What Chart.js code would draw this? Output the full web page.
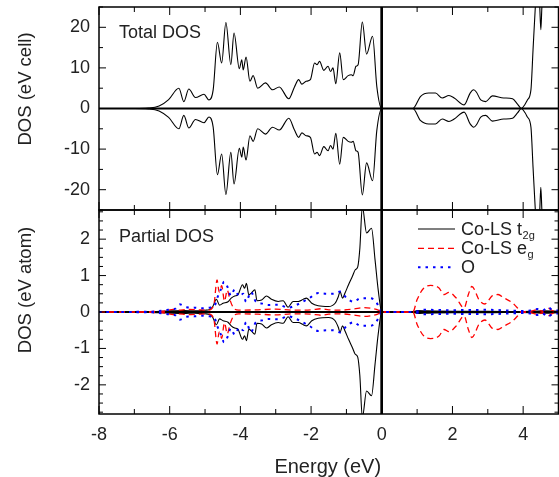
<!DOCTYPE html>
<html>
<head>
<meta charset="utf-8">
<script src="https://cdn.jsdelivr.net/npm/chart.js@4/dist/chart.umd.min.js"></script>
<style>
  body { margin: 0; background: #fff; }
  #wrap { position: relative; width: 559px; height: 477px; }
  canvas { position: absolute; left: 0; }
</style>
</head>
<body>
<div id="wrap">
  <canvas id="totalChart" width="559" height="212" style="top:0"></canvas>
  <canvas id="partialChart" width="559" height="269" style="top:208px"></canvas>
</div>
<script>
// 轴刻度
const xTicks = [-8, -6, -4, -2, 0, 2, 4];
const totalTicks = [-20, -10, 0, 10, 20];
const partialTicks = [-2, -1, 0, 1, 2];

// Total DOS (spin up / spin down)
const totalE = [-8, -7, -6.6, -6.3, -6.03, -5.74, -5.6, -5.46, -5.27, -5.03,
  -4.89, -4.77, -4.65, -4.53, -4.41, -4.27, -4.18, -4.03, -3.96, -3.92,
  -3.84, -3.73, -3.64, -3.51, -3.29, -3.09, -2.9, -2.63, -2.47, -2.35,
  -2.26, -2.14, -2.02, -1.9, -1.83, -1.76, -1.64, -1.52, -1.45, -1.38,
  -1.3, -1.19, -1.09, -0.95, -0.86, -0.81, -0.73, -0.67, -0.55, -0.43,
  -0.26, -0.14, 0, 0.88, 1.1, 1.33, 1.52, 1.71, 1.9, 2.05,
  2.33, 2.5, 2.6, 2.68, 2.8, 2.94, 3.13, 3.45, 3.7, 3.84,
  3.95, 4.05, 4.12, 4.22, 4.28, 4.34, 4.38, 4.44, 4.47, 4.5,
  4.53, 4.57, 5];
const totalUp = [0, 0, 0.1, 0.6, 2.2, 5.0, 1.7, 4.8, 2.7, 3.5,
  2.1, 4.6, 16.3, 11.2, 21.2, 10.8, 18.6, 9.8, 12.0, 9.5,
  12.7, 6.7, 8.1, 5.0, 6.3, 4.6, 5.3, 2.4, 5.3, 7.1,
  6.0, 6.7, 7.1, 11.2, 10.8, 11.6, 9.4, 10.4, 9.1, 10.0,
  6.1, 13.7, 7.1, 8.1, 8.3, 8.1, 10.4, 10.8, 21.3, 13.4,
  17.8, 5.4, 0, 0, 3.0, 3.8, 3.8, 2.6, 3.2, 2.6,
  0.9, 3.8, 4.6, 4.0, 2.1, 1.7, 3.1, 2.6, 2.4, 1.1,
  0, 1.0, 2.1, 4.6, 14.5, 24.3, 30, 30, 25, 19.4,
  25, 30, 32];
const totalDn = [0, 0, -0.1, -0.6, -2.2, -5.0, -1.7, -4.8, -2.7, -3.5,
  -2.1, -4.6, -16.3, -11.2, -21.2, -10.8, -18.6, -9.8, -12.0, -9.5,
  -12.7, -6.7, -8.1, -5.0, -6.3, -4.6, -5.3, -2.4, -5.3, -7.1,
  -6.0, -6.7, -7.1, -11.2, -10.8, -11.6, -9.4, -10.4, -9.1, -10.0,
  -6.1, -13.7, -7.1, -8.1, -8.3, -8.1, -10.4, -10.8, -21.3, -13.4,
  -17.8, -5.4, 0, 0, -3.0, -3.8, -3.8, -2.6, -3.2, -2.6,
  -0.9, -3.8, -4.6, -4.0, -2.1, -1.7, -3.1, -2.6, -2.4, -1.1,
  0, -1.0, -2.1, -4.6, -14.5, -24.3, -30, -30, -25, -19.4,
  -25, -30, -32];

// Partial DOS: Co-LS t2g
const t2gE = [-8, -6.5, -6.0, -5.6, -5.3, -5.0, -4.87, -4.78, -4.68, -4.59,
  -4.49, -4.35, -4.26, -4.16, -4.07, -3.94, -3.88, -3.83, -3.76, -3.69,
  -3.59, -3.53, -3.4, -3.26, -3.12, -2.93, -2.79, -2.65, -2.51, -2.36,
  -2.22, -2.13, -1.98, -1.8, -1.51, -1.32, -1.23, -1.18, -1.11, -1.04,
  -0.94, -0.83, -0.75, -0.68, -0.62, -0.55, -0.43, -0.29, -0.19, -0.1,
  0, 0.88, 1.0, 1.3, 2.0, 3.0, 3.9, 4.3, 4.6, 5];
const t2gUp = [0, 0.01, 0.03, 0.04, 0.03, 0.05, 0.07, 0.15, 0.35, 0.19,
  0.24, 0.28, 0.38, 0.44, 0.47, 0.75, 0.65, 0.79, 0.47, 0.52,
  0.61, 0.31, 0.33, 0.44, 0.35, 0.29, 0.31, 0.13, 0.29, 0.29,
  0.35, 0.38, 0.24, 0.17, 0.15, 0.24, 0.42, 0.56, 0.38, 0.52,
  0.75, 0.98, 1.16, 1.24, 1.75, 2.9, 2.17, 2.3, 1.43, 0.6,
  0, 0, 0.04, 0.03, 0.02, 0.02, 0.01, 0.02, 0.03, 0.02];
const t2gDn = [0, -0.01, -0.03, -0.04, -0.03, -0.05, -0.07, -0.15, -0.35, -0.19,
  -0.24, -0.28, -0.38, -0.44, -0.47, -0.75, -0.65, -0.79, -0.47, -0.52,
  -0.61, -0.31, -0.33, -0.44, -0.35, -0.29, -0.31, -0.13, -0.29, -0.29,
  -0.35, -0.38, -0.24, -0.17, -0.15, -0.24, -0.42, -0.56, -0.38, -0.52,
  -0.75, -0.98, -1.16, -1.24, -1.75, -2.9, -2.17, -2.3, -1.43, -0.6,
  0, 0, -0.04, -0.03, -0.02, -0.02, -0.01, -0.02, -0.03, -0.02];

// Partial DOS: Co-LS eg
const egE = [-8, -6.2, -5.9, -5.75, -5.5, -5.2, -4.9, -4.75, -4.66, -4.6,
  -4.53, -4.45, -4.37, -4.3, -4.2, -4.05, -3.5, -3.0, -2.5, -2.0,
  -1.7, -1.5, -1.2, -0.8, -0.5, -0.3, -0.1, 0, 0.88, 1.0,
  1.19, 1.38, 1.62, 1.76, 1.9, 2.1, 2.33, 2.45, 2.55, 2.76,
  2.92, 3.13, 3.29, 3.45, 3.7, 3.84, 3.93, 4.2, 4.41, 4.55,
  4.69, 4.85, 5];
const egUp = [0, 0.02, 0.07, 0.05, 0.07, 0.06, 0.05, 0.2, 0.88, 0.55,
  0.72, 0.3, 0.6, 0.35, 0.12, 0.05, 0.06, 0.08, 0.05, 0.06,
  0.09, 0.06, 0.05, 0.08, 0.12, 0.1, 0.05, 0, 0, 0.34,
  0.66, 0.73, 0.66, 0.48, 0.54, 0.39, 0.11, 0.48, 0.7, 0.32,
  0.22, 0.45, 0.48, 0.39, 0.25, 0.11, 0, 0.02, 0.06, 0.02,
  0.11, 0.03, 0.02];
const egDn = [0, -0.02, -0.07, -0.05, -0.07, -0.06, -0.05, -0.2, -0.88, -0.55,
  -0.72, -0.3, -0.6, -0.35, -0.12, -0.05, -0.06, -0.08, -0.05, -0.06,
  -0.09, -0.06, -0.05, -0.08, -0.12, -0.1, -0.05, 0, 0, -0.34,
  -0.66, -0.73, -0.66, -0.48, -0.54, -0.39, -0.11, -0.48, -0.7, -0.32,
  -0.22, -0.45, -0.48, -0.39, -0.25, -0.11, 0, -0.02, -0.06, -0.02,
  -0.11, -0.03, -0.02];

// Partial DOS: O
const oE = [-8, -6.5, -6.03, -5.84, -5.72, -5.53, -5.3, -5.07, -4.87, -4.75,
  -4.64, -4.56, -4.46, -4.37, -4.27, -4.16, -4.03, -3.92, -3.84, -3.7,
  -3.56, -3.37, -3.22, -2.93, -2.65, -2.4, -2.2, -2.05, -1.8, -1.56,
  -1.37, -1.18, -0.99, -0.8, -0.6, -0.4, -0.2, -0.05, 0, 0.88,
  1.2, 2.0, 3.0, 3.9, 4.2, 4.41, 4.55, 4.69, 4.85, 5];
const oUp = [0, 0.01, 0.06, 0.09, 0.21, 0.13, 0.12, 0.1, 0.12, 0.14,
  0.42, 0.6, 0.83, 0.7, 0.45, 0.62, 0.42, 0.5, 0.28, 0.55,
  0.28, 0.23, 0.19, 0.2, 0.12, 0.2, 0.3, 0.38, 0.52, 0.5,
  0.5, 0.56, 0.38, 0.28, 0.38, 0.38, 0.33, 0.08, 0, 0,
  0.06, 0.05, 0.06, 0.03, 0.04, 0.08, 0.04, 0.13, 0.05, 0.04];
const oDn = [0, -0.01, -0.06, -0.09, -0.21, -0.13, -0.12, -0.1, -0.12, -0.14,
  -0.42, -0.6, -0.83, -0.7, -0.45, -0.62, -0.42, -0.5, -0.28, -0.55,
  -0.28, -0.23, -0.19, -0.2, -0.12, -0.2, -0.3, -0.38, -0.52, -0.5,
  -0.5, -0.56, -0.38, -0.28, -0.38, -0.38, -0.33, -0.08, 0, 0,
  -0.06, -0.05, -0.06, -0.03, -0.04, -0.08, -0.04, -0.13, -0.05, -0.04];

const legendMain = ['Co-LS t', 'Co-LS e', 'O'];
const legendSub = ['2g', 'g', ''];

const FONT = '"Liberation Sans", Arial, Helvetica, sans-serif';
const TXT = '#222';

function pts(xs, ys) {
  return xs.map((x, i) => ({ x: x, y: ys[i] }));
}

// 线型
const styleT2g = { borderColor: '#000', borderWidth: 1.1, borderDash: [] };
const styleEg = { borderColor: '#ff0000', borderWidth: 1.3, borderDash: [6, 4] };
const styleO = { borderColor: '#0000ff', borderWidth: 2, borderDash: [2.5, 5] };

// 去掉刻度标签的额外边距
function noPad(s) {
  s.paddingTop = 0;
  s.paddingBottom = 0;
  s.paddingLeft = 0;
  s.paddingRight = 0;
}

function seg(ctx, x1, y1, x2, y2) {
  ctx.beginPath();
  ctx.moveTo(x1, y1);
  ctx.lineTo(x2, y2);
  ctx.stroke();
}

// 零线画在曲线下面，边框、内向刻度和文字画在上面
const framePlugin = {
  id: 'frame',
  beforeDatasetsDraw(chart) {
    const { ctx, chartArea: a } = chart;
    const y0 = chart.scales.y.getPixelForValue(0);
    const x0 = chart.scales.x.getPixelForValue(0);
    ctx.save();
    ctx.strokeStyle = '#000';
    ctx.lineWidth = 2;
    seg(ctx, a.left, y0, a.right, y0);
    ctx.lineWidth = 2.4;
    seg(ctx, x0, a.top, x0, a.bottom);
    ctx.restore();
  },
  afterDatasetsDraw(chart, args, opts) {
    const { ctx, chartArea: a } = chart;
    const xs = chart.scales.x, ys = chart.scales.y;
    ctx.save();
    ctx.strokeStyle = '#000';
    ctx.setLineDash([]);

    // 竖直零线再压一次，保证贯通
    const x0 = xs.getPixelForValue(0);
    ctx.lineWidth = 2.4;
    seg(ctx, x0, a.top, x0, a.bottom);

    // 边框
    ctx.lineWidth = 1.5;
    ctx.strokeRect(a.left, a.top, a.right - a.left, a.bottom - a.top);

    // x 刻度
    ctx.lineWidth = 1;
    for (let v = -8; v <= 5; v++) {
      const px = xs.getPixelForValue(v);
      const len = v % 2 === 0 ? 8 : 5;
      seg(ctx, px, a.top, px, a.top + len);
      seg(ctx, px, a.bottom, px, a.bottom - len);
    }
    // y 刻度
    const n0 = Math.ceil(ys.min / opts.yStep - 1e-6);
    const n1 = Math.floor(ys.max / opts.yStep + 1e-6);
    for (let n = n0; n <= n1; n++) {
      const v = n * opts.yStep;
      const py = ys.getPixelForValue(v);
      const major = Math.abs(v / opts.yMajor - Math.round(v / opts.yMajor)) < 1e-6;
      const len = major ? 7 : 4;
      seg(ctx, a.left, py, a.left + len, py);
      seg(ctx, a.right, py, a.right - len, py);
    }

    // 面板标签
    ctx.fillStyle = TXT;
    ctx.textBaseline = 'alphabetic';
    ctx.textAlign = 'left';
    ctx.font = '18px ' + FONT;
    ctx.fillText(opts.label, opts.labelX, opts.labelY);

    // y 轴标题
    ctx.save();
    ctx.translate(opts.titleX, opts.titleY);
    ctx.rotate(-Math.PI / 2);
    ctx.textAlign = 'center';
    ctx.textBaseline = 'middle';
    ctx.font = '18.5px ' + FONT;
    ctx.fillText(opts.yTitle, 0, 0);
    ctx.restore();

    // x 轴标题
    if (opts.xTitle) {
      ctx.textAlign = 'center';
      ctx.textBaseline = 'middle';
      ctx.font = '20px ' + FONT;
      ctx.fillText(opts.xTitle, (a.left + a.right) / 2 - 1, opts.xTitleY);
    }

    // 图例
    if (opts.legend) {
      const styles = [styleT2g, styleEg, styleO];
      const rows = [21, 40.3, 59.3];
      styles.forEach((s, i) => {
        ctx.strokeStyle = s.borderColor;
        ctx.lineWidth = s.borderWidth;
        ctx.setLineDash(s.borderDash);
        seg(ctx, 418, rows[i], 455, rows[i]);
        ctx.setLineDash([]);
        ctx.fillStyle = TXT;
        ctx.textAlign = 'left';
        ctx.textBaseline = 'alphabetic';
        ctx.font = '18px ' + FONT;
        const base = rows[i] + 6;
        ctx.fillText(legendMain[i], 461, base);
        if (legendSub[i]) {
          const w = ctx.measureText(legendMain[i]).width;
          ctx.font = '11px ' + FONT;
          ctx.fillText(legendSub[i], 461 + w + 0.5, base + 4);
        }
      });
    }
    ctx.restore();
  }
};

function makeChart(id, datasets, yMin, yMax, yTickVals, showX, pad, frameOpts) {
  const ctx = document.getElementById(id).getContext('2d');
  return new Chart(ctx, {
    type: 'line',
    data: { datasets: datasets },
    plugins: [framePlugin],
    options: {
      responsive: false,
      animation: false,
      devicePixelRatio: 1,
      layout: { padding: pad },
      elements: {
        point: { radius: 0 },
        line: { cubicInterpolationMode: 'monotone', fill: false }
      },
      plugins: {
        legend: { display: false },
        tooltip: { enabled: false },
        frame: frameOpts
      },
      scales: {
        x: {
          type: 'linear',
          min: -8,
          max: 5,
          display: showX,
          grid: { display: false, drawTicks: false },
          border: { display: false },
          afterBuildTicks: s => { s.ticks = xTicks.map(v => ({ value: v })); },
          ticks: { font: { family: FONT, size: 18 }, color: TXT, padding: 10, maxRotation: 0 },
          afterFit: s => { s.height = showX ? 63 : 0; noPad(s); }
        },
        y: {
          type: 'linear',
          min: yMin,
          max: yMax,
          grid: { display: false, drawTicks: false },
          border: { display: false },
          afterBuildTicks: s => { s.ticks = yTickVals.map(v => ({ value: v })); },
          ticks: { font: { family: FONT, size: 18 }, color: TXT, padding: 9 },
          afterFit: s => { s.width = 99; noPad(s); }
        }
      }
    }
  });
}

// 总态密度
makeChart('totalChart', [
  Object.assign({ data: pts(totalE, totalUp) }, styleT2g),
  Object.assign({ data: pts(totalE, totalDn) }, styleT2g)
], -25, 25, totalTicks, false, { top: 7, bottom: 2, left: 0, right: 0.5 }, {
  yStep: 5, yMajor: 10,
  label: 'Total DOS', labelX: 119, labelY: 37.5,
  yTitle: 'DOS (eV cell)', titleX: 26, titleY: 89,
  legend: false, xTitle: ''
});

// 分波态密度
makeChart('partialChart', [
  Object.assign({ data: pts(oE, oUp) }, styleO),
  Object.assign({ data: pts(oE, oDn) }, styleO),
  Object.assign({ data: pts(egE, egUp) }, styleEg),
  Object.assign({ data: pts(egE, egDn) }, styleEg),
  Object.assign({ data: pts(t2gE, t2gUp) }, styleT2g),
  Object.assign({ data: pts(t2gE, t2gDn) }, styleT2g)
], -2.8, 2.8, partialTicks, true, { top: 2, bottom: 0, left: 0, right: 0.5 }, {
  yStep: 0.25, yMajor: 1,
  label: 'Partial DOS', labelX: 119, labelY: 33.7,
  yTitle: 'DOS (eV atom)', titleX: 26, titleY: 82,
  legend: true, xTitle: 'Energy (eV)', xTitleY: 259
});
</script>
</body>
</html>
